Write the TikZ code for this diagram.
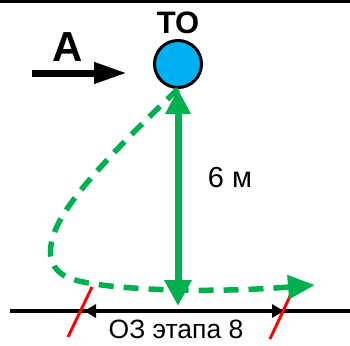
\documentclass[tikz,border=0pt]{standalone}
\usepackage{fontspec}
\setmainfont{Liberation Sans}
\usetikzlibrary{arrows.meta}
\definecolor{gr}{HTML}{00B050}
\definecolor{cy}{HTML}{00B0F0}
\tikzset{
  lbl/.style={inner sep=0pt, text=black},
  gsolid/.style={draw=gr, line width=7pt, {Triangle[length=26pt,width=26pt]}-{Triangle[length=25pt,width=24pt]}},
  gdash/.style={draw=gr, line width=5.5pt, dash pattern=on 15pt off 10pt, -{Triangle[length=27pt,width=23pt]}},
  redtick/.style={draw=red, line width=3pt},
  dimarrow/.style={draw=black, line width=3.5pt, {Triangle[length=12pt,width=13pt]}-{Triangle[length=12pt,width=13pt]}},
}
\begin{document}
\begin{tikzpicture}[x=1pt,y=-1pt]
\useasboundingbox (0,0) rectangle (350,345);
\fill[white] (0,0) rectangle (350,345);
% top border line
\coordinate (tl) at (0,1.6);
\coordinate (tr) at (350,1.6);
\draw[line width=3.2pt] (tl) -- (tr);
% ground line
\coordinate (gl) at (10,311);
\coordinate (gr2) at (350,311);
\draw[line width=3.5pt] (gl) -- (gr2);
% dimension arrow
\coordinate (d1) at (84,311);
\coordinate (d2) at (284,311);
\draw[dimarrow] (d1) -- (d2);
% red ticks
\coordinate (r1a) at (68,337);
\coordinate (r1b) at (92,287);
\coordinate (r2a) at (270,339);
\coordinate (r2b) at (292,292);
\draw[redtick] (r1a) -- (r1b);
\draw[redtick] (r2a) -- (r2b);
% circle
\node[circle, draw=black, line width=3pt, fill=cy, minimum size=47pt, inner sep=0pt] (to) at (178,64) {};
\node[lbl, font=\bfseries\fontsize{31}{31}\selectfont] (tolbl) at (178,23) {ТО};
% arrow A
\node[lbl, font=\bfseries\fontsize{42}{42}\selectfont] (albl) at (68,47) {А};
\coordinate (a1) at (32,73);
\coordinate (a2) at (127,73);
\draw[line width=7pt, -{Triangle[length=33pt,width=20pt]}] (a1) -- (a2);
% green solid arrow
\coordinate (gb) at (178,306);
\draw[gsolid] (gb) -- (to.south);
\node[lbl, font=\fontsize{29}{29}\selectfont] (six) at (230,178) {6 м};
% dashed path
\coordinate (gend) at (315,285);
\draw[gdash] (to.south) .. controls (130,135) and (85,180) .. (63,215)
  .. controls (45,245) and (45,270) .. (72,279)
  .. controls (100,289) and (200,294) .. (gend);
% bottom label
\node[lbl, font=\fontsize{26.5}{26.5}\selectfont] (oz) at (176,329) {ОЗ этапа 8};
\end{tikzpicture}
\end{document}
